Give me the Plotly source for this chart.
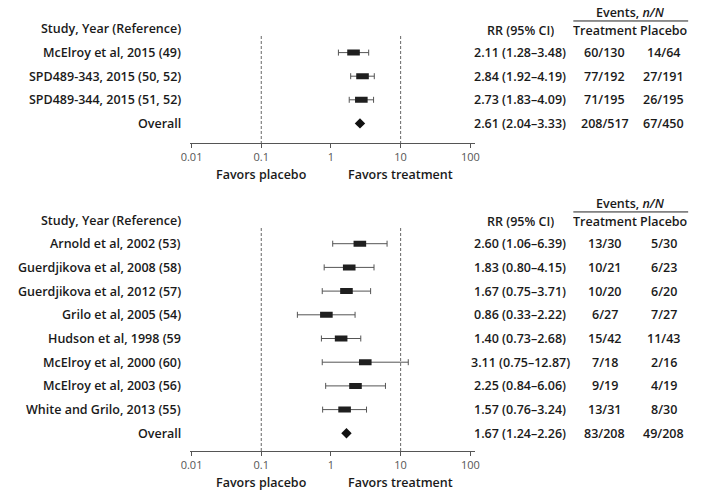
import math
import plotly.graph_objects as go

W, H = 701, 499

# ---------------- data ----------------
top_studies = ["McElroy et al, 2015 (49)", "SPD489-343, 2015 (50, 52)", "SPD489-344, 2015 (51, 52)"]
top_rr = [2.11, 2.84, 2.73]
top_lo = [1.28, 1.92, 1.83]
top_hi = [3.48, 4.19, 4.09]
top_overall = [2.61, 2.04, 3.33]
top_treat = ["60/130", "77/192", "71/195", "208/517"]
top_plac = ["14/64", "27/191", "26/195", "67/450"]

bot_studies = ["Arnold et al, 2002 (53)", "Guerdjikova et al, 2008 (58)", "Guerdjikova et al, 2012 (57)",
               "Grilo et al, 2005 (54)", "Hudson et al, 1998 (59", "McElroy et al, 2000 (60)",
               "McElroy et al, 2003 (56)", "White and Grilo, 2013 (55)"]
bot_rr = [2.60, 1.83, 1.67, 0.86, 1.40, 3.11, 2.25, 1.57]
bot_lo = [1.06, 0.80, 0.75, 0.33, 0.73, 0.75, 0.84, 0.76]
bot_hi = [6.39, 4.15, 3.71, 2.22, 2.68, 12.87, 6.06, 3.24]
bot_overall = [1.67, 1.24, 2.26]
bot_treat = ["13/30", "10/21", "10/20", "6/27", "15/42", "7/18", "9/19", "13/31", "83/208"]
bot_plac = ["5/30", "6/23", "6/20", "7/27", "11/43", "2/16", "4/19", "8/30", "49/208"]

tick_vals = [0.01, 0.1, 1, 10, 100]
tick_text = ["0.01", "0.1", "1", "10", "100"]
ref_lines = [0.1, 10]

# ---------------- style ----------------
FONT = "Open Sans"
TXT = "#1a1a1a"
GREY = "#555555"
LBL_SIZE = 12.5

panels = [
    dict(studies=top_studies, rr=top_rr, lo=top_lo, hi=top_hi, ov=top_overall,
         treat=top_treat, plac=top_plac, header_px=29, spacing=23.6, axis_px=143, dash_px=36,
         xa="x", ya="y", xname="xaxis", yname="yaxis"),
    dict(studies=bot_studies, rr=bot_rr, lo=bot_lo, hi=bot_hi, ov=bot_overall,
         treat=bot_treat, plac=bot_plac, header_px=220, spacing=23.7, axis_px=451, dash_px=228,
         xa="x2", ya="y2", xname="xaxis2", yname="yaxis2"),
]


def fmt_rr(r, l, h):
    return f"{r:.2f} ({l:.2f}\u2013{h:.2f})"


def py(pix):
    return 1 - pix / H


fig = go.Figure()
annotations = []
shapes = []

x_left_px, x_right_px = 184.6, 475.0
col_rr, col_tr, col_pl, lbl_x = 521, 607, 667, 177
bold = dict(family=FONT, size=LBL_SIZE, color=TXT, weight=600)

for p in panels:
    def idx(pix, p=p):
        return (pix - p["header_px"]) / p["spacing"]

    def rowpix(i, p=p):
        return p["header_px"] + i * p["spacing"]

    axis_idx = idx(p["axis_px"])
    n = len(p["studies"])
    rows = list(range(1, n + 1))
    ov_row = n + 1

    # reference dashed lines
    for rv in ref_lines:
        fig.add_trace(go.Scatter(x=[rv, rv], y=[idx(p["dash_px"]), axis_idx], mode="lines",
                                 line=dict(color="#666666", width=1, dash="3px,2px"),
                                 xaxis=p["xa"], yaxis=p["ya"], showlegend=False, hoverinfo="skip"))
    # study estimates
    fig.add_trace(go.Scatter(
        x=p["rr"], y=rows, mode="markers",
        marker=dict(symbol="line-ew", size=9, line=dict(width=6, color="#1f1f1f")),
        error_x=dict(type="data", symmetric=False,
                     array=[h - r for r, h in zip(p["rr"], p["hi"])],
                     arrayminus=[r - l for r, l in zip(p["rr"], p["lo"])],
                     color=GREY, thickness=1, width=3),
        xaxis=p["xa"], yaxis=p["ya"], showlegend=False))
    # overall diamond
    fig.add_trace(go.Scatter(x=[p["ov"][0]], y=[ov_row], mode="markers",
                             marker=dict(symbol="diamond", size=8, color="#111111"),
                             xaxis=p["xa"], yaxis=p["ya"], showlegend=False))

    # headers
    annotations.append(dict(x=lbl_x / W, y=py(rowpix(0)), xref="paper", yref="paper",
                            text="Study, Year (Reference)", xanchor="right", yanchor="middle",
                            showarrow=False, font=bold))
    hy = py(rowpix(0) + 1)
    for txt, xx in [("RR (95% CI)", col_rr), ("Treatment", col_tr), ("Placebo", col_pl)]:
        annotations.append(dict(x=xx / W, y=hy, xref="paper", yref="paper", text=txt, height=14,
                                xanchor="center", yanchor="middle", showarrow=False, font=bold))
    annotations.append(dict(x=(575 + 692) / 2 / W, y=py(rowpix(-0.6) - 2), xref="paper", yref="paper",
                            text="Events, <i>n/N</i>", xanchor="center", yanchor="middle", height=13,
                            showarrow=False, font=bold))
    shapes.append(dict(type="line", xref="paper", yref="paper", x0=575 / W, x1=692 / W,
                       y0=py(rowpix(-0.34)), y1=py(rowpix(-0.34)), line=dict(color="#222222", width=1)))

    labels = p["studies"] + ["Overall"]
    rrs = p["rr"] + [p["ov"][0]]
    los = p["lo"] + [p["ov"][1]]
    his = p["hi"] + [p["ov"][2]]
    for i, lab in enumerate(labels):
        yy = py(rowpix(i + 1))
        for txt, xx, anc in [(lab, lbl_x, "right"), (fmt_rr(rrs[i], los[i], his[i]), col_rr, "center"),
                             (p["treat"][i], col_tr, "center"), (p["plac"][i], col_pl, "center")]:
            annotations.append(dict(x=xx / W, y=yy, xref="paper", yref="paper", text=txt,
                                    xanchor=anc, yanchor="middle", showarrow=False, font=bold))

    # favors labels
    fav_y = py(p["axis_px"] + 31)
    annotations.append(dict(x=math.log10(ref_lines[0]), y=fav_y, xref=p["xa"], yref="paper",
                            text="Favors placebo", xanchor="center", yanchor="middle",
                            showarrow=False, font=bold))
    annotations.append(dict(x=math.log10(ref_lines[1]), y=fav_y, xref=p["xa"], yref="paper",
                            text="Favors treatment", xanchor="center", yanchor="middle",
                            showarrow=False, font=bold))

    fig.layout[p["xname"]] = dict(
        type="log", range=[-2.02, 2.07], domain=[x_left_px / W, x_right_px / W],
        anchor=p["ya"], showgrid=False, zeroline=False, showline=True, linecolor=GREY, linewidth=1,
        ticks="outside", ticklen=4, tickcolor=GREY, tickvals=tick_vals, ticktext=tick_text,
        tickfont=dict(family=FONT, size=11, color="#555555"), fixedrange=True)
    fig.layout[p["yname"]] = dict(
        range=[axis_idx, 0], domain=[1 - p["axis_px"] / H, 1 - p["header_px"] / H],
        anchor=p["xa"], visible=False, fixedrange=True)

fig.update_layout(
    width=W, height=H, margin=dict(l=0, r=0, t=0, b=0),
    paper_bgcolor="white", plot_bgcolor="white",
    annotations=annotations, shapes=shapes, showlegend=False,
    font=dict(family=FONT, color=TXT),
)

fig.write_html("out.html", config={"displayModeBar": False},
               post_script="document.body.style.margin='0';document.body.style.overflow='hidden';")
